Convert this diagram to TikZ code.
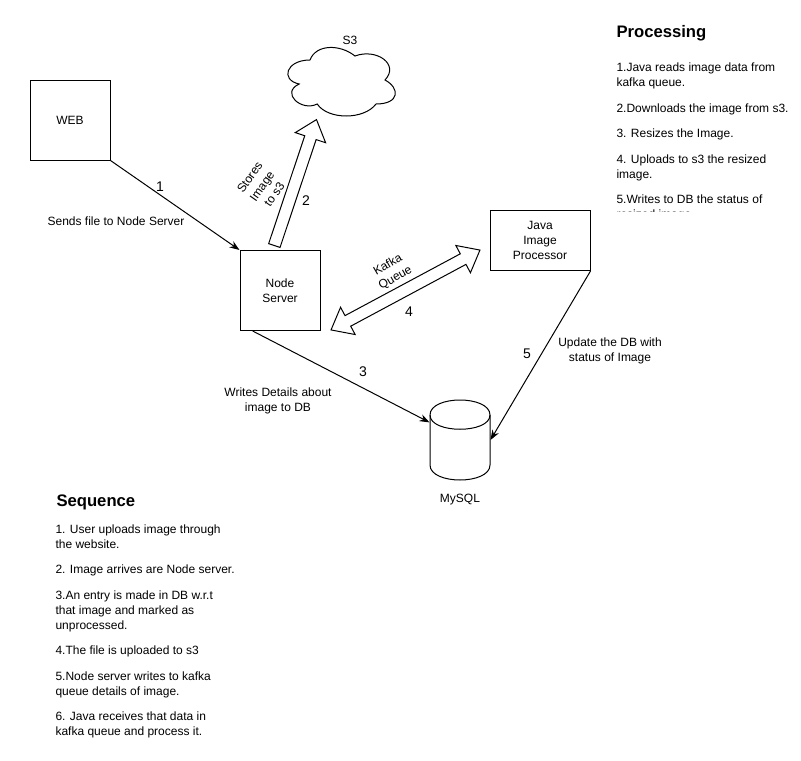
\documentclass[tikz,border=0pt]{standalone}
\usepackage{fontspec}
\setmainfont{Liberation Sans}
\usetikzlibrary{arrows.meta, positioning, shapes.arrows, calc}
\tikzset{
  every picture/.style={line width=0.75pt},
  box/.style={draw, align=center, font=\fontsize{9}{11.25}\selectfont},
  boxw/.style={box, minimum width=60pt, minimum height=60pt},
  arrow/.style={-{Stealth[length=7.5pt, width=5.5pt]}},
  blockone/.style={draw, single arrow, inner xsep=0pt, inner ysep=4.125pt, minimum height=99.6pt,
    single arrow head extend=7.5pt, single arrow tip angle=80},
  blocktwo/.style={draw, double arrow, inner xsep=0pt, inner ysep=4.125pt, minimum height=126.75pt,
    double arrow head extend=7.1pt, double arrow tip angle=78},
  note/.style={align=center, font=\fontsize{9}{11.25}\selectfont},
  num/.style={font=\fontsize{10.5}{12}\selectfont},
  title/.style={anchor=west, inner sep=0pt, font=\fontsize{12.5}{15}\selectfont\bfseries},
  steps/.style={anchor=north west, align=left, inner sep=0pt, font=\fontsize{9}{11.25}\selectfont},
}
\begin{document}
\begin{tikzpicture}[x=0.75pt, y=-0.75pt]
  \useasboundingbox (0,0) rectangle (801,761);
  % boxes
  \node[boxw] (web) at (70,120) {WEB};
  \node[boxw] (nodesrv) at (280,290.5) {Node\\Server};
  \node[box, minimum width=75pt, minimum height=45pt] (java) at (540,240.5) {Java\\Image\\Processor};
  % database
  \node[minimum width=45pt, minimum height=60pt, inner sep=0pt] (mysql) at (460,440) {};
  \draw (430,415) .. controls (430,395) and (490,395) .. (490,415) -- (490,465)
    .. controls (490,485) and (430,485) .. (430,465) -- cycle;
  \draw (430,415) .. controls (430,434) and (490,434) .. (490,415);
  \node[note] (mysqllabel) at (460,500) {MySQL};
  % cloud
  \draw (310,60) .. controls (286,60) and (280,80) .. (299.2,84)
    .. controls (280,92.8) and (301.6,112) .. (317.2,104)
    .. controls (328,120) and (364,120) .. (376,104)
    .. controls (400,104) and (400,88) .. (385,80)
    .. controls (400,64) and (376,48) .. (355,56)
    .. controls (340,44) and (316,44) .. (310,60);
  \node[note] (s3label) at (350,40) {S3};
  % connectors
  \draw[arrow] (web.south east) -- (nodesrv.north west);
  \draw[arrow] (nodesrv.236) -- (mysql.150);
  \draw[arrow] (java.south east) -- (mysql.east);
  % block arrows
  \node[blockone, rotate=71.5, anchor=tail] (storearrow) at (274.2,246) {};
  \node[blocktwo, rotate=28.2] (kafkaarrow) at (405.5,290) {};
  % labels
  \node[note] (sendslabel) at (116,221) {Sends file to Node Server};
  \node[note, rotate=55] (storeslabel) at (262,186) {Stores\\Image\\to s3};
  \node[note, rotate=30] (kafkalabel) at (391.7,271.7) {Kafka\\Queue};
  \node[note] (writeslabel) at (278,400.5) {Writes Details about\\image to DB};
  \node[note] (updatelabel) at (610,351) {Update the DB with\\status of Image};
  \foreach \n/\x/\y in {1/160/187, 2/306/201, 3/363/372, 4/409/312, 5/527/354} {
    \node[num] (num\n) at (\x,\y) {\n};
  }
  % processing text
  \node[title] (proctitle) at (616,33) {Processing};
  \begin{scope}
    \clip (600,50) rectangle (801,211);
    \node[steps] (proctext) at (616,62.5) {1.Java reads image data from\\kafka queue.\\[7.9pt]
      2.Downloads the image from s3.\\[7.9pt]
      3. Resizes the Image.\\[7.9pt]
      4. Uploads to s3 the resized\\image.\\[7.9pt]
      5.Writes to DB the status of\\resized image.};
  \end{scope}
  % sequence text
  \node[title] (seqtitle) at (56,502.5) {Sequence};
  \node[steps] (seqtext) at (55,524) {1. User uploads image through\\the website.\\[7.9pt]
    2. Image arrives are Node server.\\[7.9pt]
    3.An entry is made in DB w.r.t\\that image and marked as\\unprocessed.\\[7.9pt]
    4.The file is uploaded to s3\\[7.9pt]
    5.Node server writes to kafka\\queue details of image.\\[7.9pt]
    6. Java receives that data in\\kafka queue and process it.};
\end{tikzpicture}
\end{document}
